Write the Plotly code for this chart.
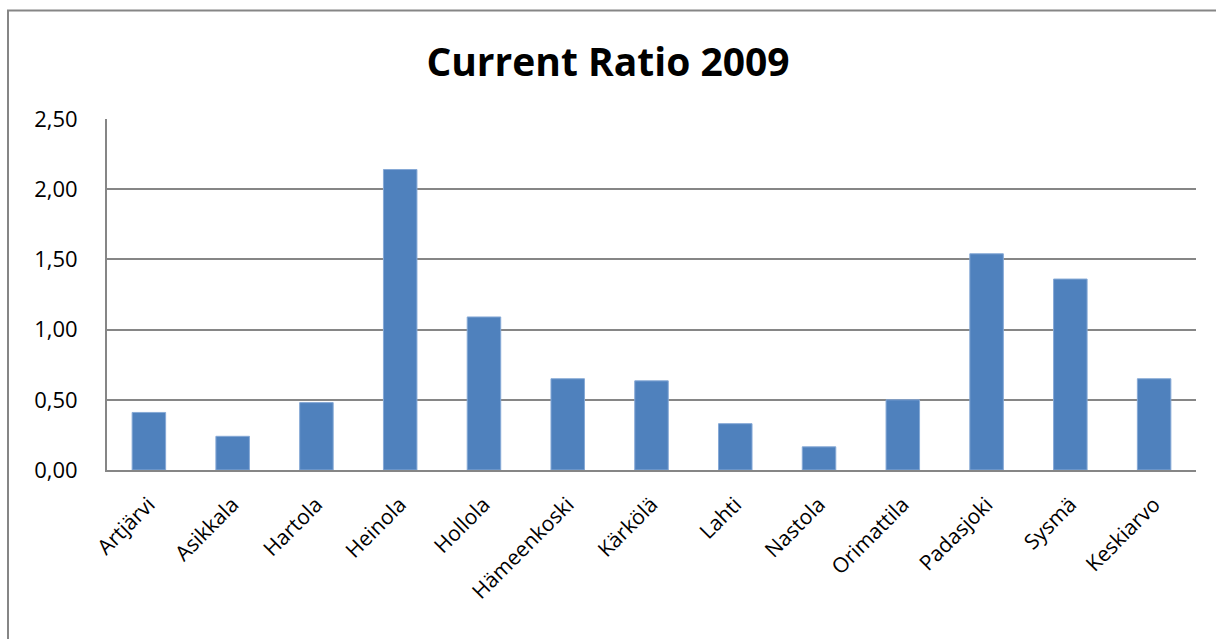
import plotly.graph_objects as go

# Current ratio per municipality, 2009
municipalities = ["Artjärvi", "Asikkala", "Hartola", "Heinola", "Hollola", "Hämeenkoski",
                  "Kärkölä", "Lahti", "Nastola", "Orimattila", "Padasjoki", "Sysmä", "Keskiarvo"]
current_ratio = [0.41, 0.24, 0.48, 2.14, 1.09, 0.65, 0.635, 0.33, 0.165, 0.50, 1.54, 1.36, 0.65]
y_ticks = [0, 0.5, 1.0, 1.5, 2.0, 2.5]

FONT = "Open Sans"
GRID = "#868686"

fig = go.Figure(
    go.Bar(
        x=municipalities,
        y=current_ratio,
        marker=dict(color="#4F81BD", line=dict(color="#86A9D6", width=1)),
        hoverinfo="x+y",
    )
)

fig.update_layout(
    width=1216,
    height=639,
    margin=dict(l=107, r=20, t=119, b=169),
    paper_bgcolor="white",
    plot_bgcolor="white",
    separators=", ",
    bargap=0.6,
    showlegend=False,
    font=dict(family=FONT, size=22, color="black"),
    title=dict(
        text="<b>Current Ratio 2009</b>",
        font=dict(family=FONT, size=39, color="black"),
        x=0.5,
        xref="container",
        xanchor="center",
        y=1 - 62 / 639,
        yref="container",
        yanchor="middle",
    ),
    xaxis=dict(
        tickangle=-45,
        showgrid=False,
        showline=True,
        linecolor=GRID,
        linewidth=2,
        ticks="",
        ticklabelstandoff=12,
        tickfont=dict(family=FONT, size=21),
    ),
    yaxis=dict(
        range=[0, 2.5],
        tickvals=y_ticks,
        tickformat=".2f",
        showgrid=True,
        gridcolor=GRID,
        gridwidth=1.5,
        showline=True,
        linecolor=GRID,
        linewidth=2,
        zeroline=False,
        ticks="",
        ticklabelstandoff=23,
        tickfont=dict(family=FONT, size=22),
    ),
    shapes=[
        # outer chart frame
        dict(
            type="rect",
            xref="paper",
            yref="paper",
            x0=-99 / 1089,
            x1=1.2,
            y0=-0.6,
            y1=(470 - 10.5) / 351,
            line=dict(color=GRID, width=2),
            fillcolor="rgba(0,0,0,0)",
            layer="below",
        )
    ],
)

fig.write_html("out.html")
